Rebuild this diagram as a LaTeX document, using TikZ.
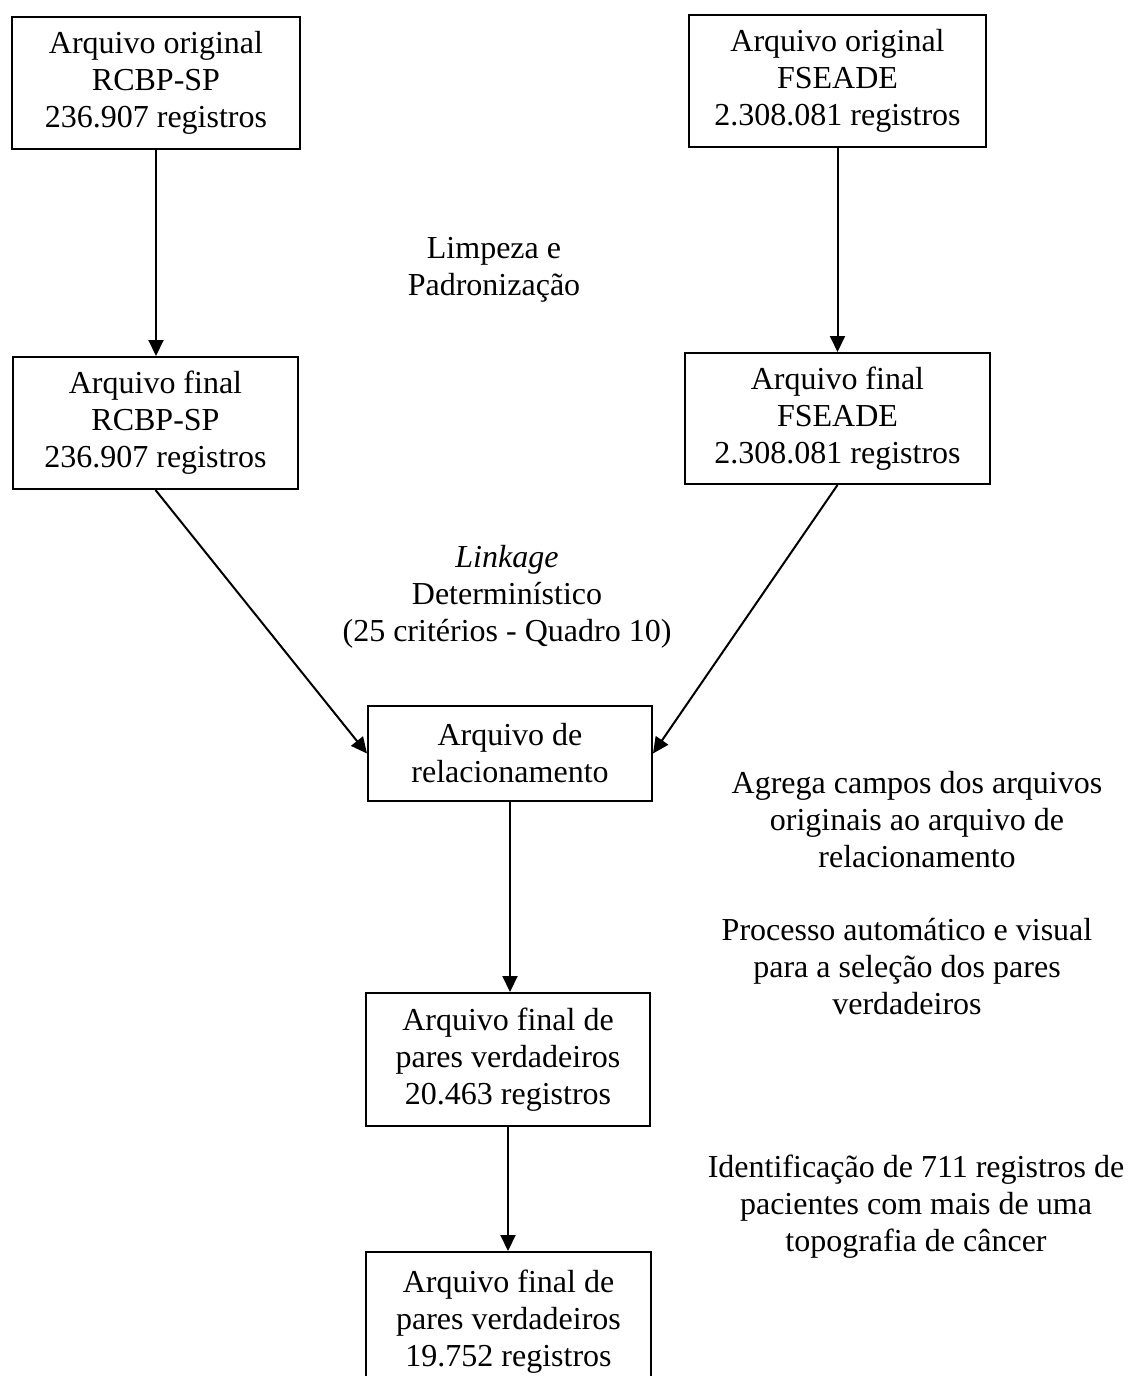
\documentclass[tikz,border=0pt]{standalone}
\usepackage{fontspec}
\setmainfont{Liberation Serif}
\usetikzlibrary{arrows.meta}
\begin{document}
\begin{tikzpicture}[x=1pt,y=-1pt,
  box/.style={draw,line width=2pt,align=center,inner sep=0pt,font=\fontsize{32}{37}\selectfont},
  lbl/.style={align=center,inner sep=0pt,font=\fontsize{32}{37}\selectfont},
  arr/.style={line width=2pt,-{Triangle[length=16pt,width=15pt]}}]
\useasboundingbox (0,0) rectangle (1129,1376);
\node[box,minimum width=288pt,minimum height=132pt] (b1) at (156,83) {Arquivo original\\RCBP-SP\\236.907 registros};
\node[box,minimum width=297pt,minimum height=132pt] (b2) at (837.5,81) {Arquivo original\\FSEADE\\2.308.081 registros};
\node[box,minimum width=285pt,minimum height=132pt] (b3) at (155.5,423) {Arquivo final\\RCBP-SP\\236.907 registros};
\node[box,minimum width=305pt,minimum height=131pt] (b4) at (837.5,418.5) {Arquivo final\\FSEADE\\2.308.081 registros};
\node[box,minimum width=284pt,minimum height=95pt] (b5) at (510,753.5) {Arquivo de\\relacionamento};
\node[box,minimum width=284pt,minimum height=133pt] (b6) at (508,1059.5) {Arquivo final de\\pares verdadeiros\\20.463 registros};
\node[box,minimum width=285pt,minimum height=140pt] (b7) at (508.5,1322) {Arquivo final de\\pares verdadeiros\\19.752 registros};

\node[lbl] (l1) at (494,270) {Limpeza e\\Padronização};
\node[lbl] (l2) at (507,597) {\textit{Linkage}\\Determinístico\\(25 critérios - Quadro 10)};
\node[lbl] (l3) at (917,820) {Agrega campos dos arquivos\\originais ao arquivo de\\relacionamento};
\node[lbl] (l4) at (907,967) {Processo automático e visual\\para a seleção dos pares\\verdadeiros};
\node[lbl] (l5) at (916,1207) {Identificação de 711 registros de\\pacientes com mais de uma\\topografia de câncer};

\draw[arr] (b1.south) -- (b1.south |- b3.north);
\draw[arr] (b2.south) -- (b2.south |- b4.north);
\draw[arr] (b3.south) -- (b5.west);
\draw[arr] (b4.south) -- (b5.east);
\draw[arr] (b5.south) -- (b5.south |- b6.north);
\draw[arr] (b6.south) -- (b6.south |- b7.north);
\end{tikzpicture}
\end{document}
